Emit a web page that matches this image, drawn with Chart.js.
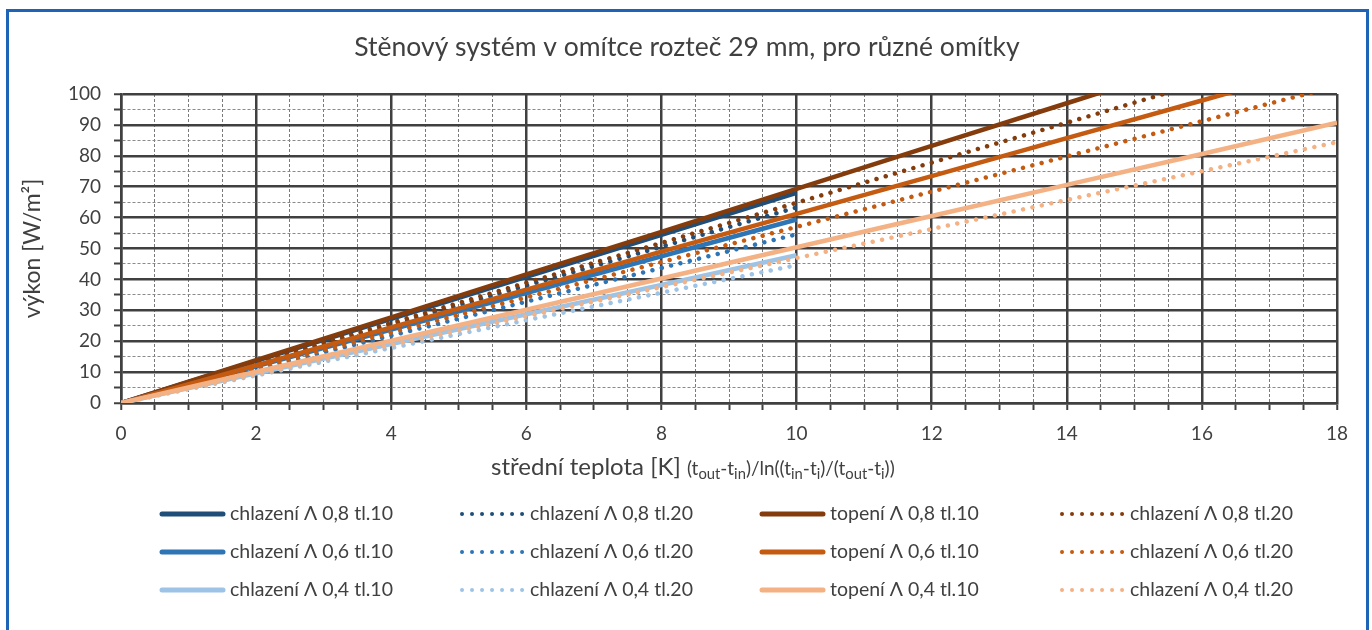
<!DOCTYPE html>
<html lang="cs">
<head>
<meta charset="utf-8">
<title>Stěnový systém v omítce</title>
<script src="https://cdn.jsdelivr.net/npm/chart.js@4/dist/chart.umd.min.js"></script>
<style>
  html, body { margin: 0; padding: 0; background: #fff; overflow: hidden; }
  #wrap { position: relative; width: 1372px; height: 630px; }
  #frame { position: absolute; left: 6px; top: 9px; width: 1357px; height: 640px; border: 3px solid #1e64b6; pointer-events: none; }
  canvas { display: block; }
</style>
</head>
<body>
<div id="wrap">
  <canvas id="chart" width="1372" height="630"></canvas>
  <div id="frame"></div>
</div>
<script>
// střední teplota [K]
const teplotaChlazeni = [0, 2, 4, 6, 8, 10];
const teplotaTopeni = [0, 2, 4, 6, 8, 10, 12, 14, 16, 18];

// výkon [W/m2] - chlazení
const chlazeni08tl10 = [0, 13.6, 27.2, 40.8, 54.4, 68.0];
const chlazeni08tl20 = [0, 12.7, 25.3, 38.0, 50.6, 63.3];
const chlazeni06tl10 = [0, 11.9, 23.8, 35.6, 47.5, 59.4];
const chlazeni06tl20 = [0, 10.9, 21.8, 32.8, 43.7, 54.6];
const chlazeni04tl10 = [0, 9.6, 19.1, 28.7, 38.2, 47.8];
const chlazeni04tl20 = [0, 8.9, 17.8, 26.8, 35.7, 44.6];

// výkon [W/m2] - topení
const topeni08tl10 = [0, 13.9, 27.7, 41.6, 55.4, 69.3, 83.2, 97.0, 110.9];
const topeni08tl20 = [0, 13.0, 25.9, 38.9, 51.8, 64.8, 77.8, 90.7, 103.7];
const topeni06tl10 = [0, 12.2, 24.5, 36.7, 49.0, 61.2, 73.4, 85.7, 97.9, 110.2];
const topeni06tl20 = [0, 11.4, 22.8, 34.2, 45.6, 57.0, 68.4, 79.8, 91.2, 102.6];
const topeni04tl10 = [0, 10.1, 20.2, 30.2, 40.3, 50.4, 60.5, 70.6, 80.6, 90.7];
const topeni04tl20 = [0, 9.4, 18.8, 28.1, 37.5, 46.9, 56.3, 65.7, 75.0, 84.4];

const xTickLabels = [0, 2, 4, 6, 8, 10, 12, 14, 16, 18];
const yTickLabels = [0, 10, 20, 30, 40, 50, 60, 70, 80, 90, 100];

const FONT = 'Lato, "Open Sans", sans-serif';
const TEXT = '#404040';

function points(xs, ys) {
  return ys.map((y, i) => ({ x: xs[i], y: y }));
}

function serie(label, xs, ys, color, dotted) {
  return {
    label: label,
    data: points(xs, ys),
    borderColor: color,
    backgroundColor: color,
    borderWidth: 4.5,
    borderDash: dotted ? [0.01, 9.6] : [],
    borderCapStyle: dotted ? 'round' : 'butt',
    pointRadius: 0,
    tension: 0,
    clip: 0
  };
}

const datasets = [
  serie('chlazení Λ 0,8 tl.10', teplotaChlazeni, chlazeni08tl10, '#1f4e79', false),
  serie('chlazení Λ 0,8 tl.20', teplotaChlazeni, chlazeni08tl20, '#1f4e79', true),
  serie('topení Λ 0,8 tl.10', teplotaTopeni, topeni08tl10, '#843c0c', false),
  serie('chlazení Λ 0,8 tl.20', teplotaTopeni, topeni08tl20, '#843c0c', true),
  serie('chlazení Λ 0,6 tl.10', teplotaChlazeni, chlazeni06tl10, '#2e75b6', false),
  serie('chlazení Λ 0,6 tl.20', teplotaChlazeni, chlazeni06tl20, '#2e75b6', true),
  serie('topení Λ 0,6 tl.10', teplotaTopeni, topeni06tl10, '#c55a11', false),
  serie('chlazení Λ 0,6 tl.20', teplotaTopeni, topeni06tl20, '#c55a11', true),
  serie('chlazení Λ 0,4 tl.10', teplotaChlazeni, chlazeni04tl10, '#9dc3e6', false),
  serie('chlazení Λ 0,4 tl.20', teplotaChlazeni, chlazeni04tl20, '#9dc3e6', true),
  serie('topení Λ 0,4 tl.10', teplotaTopeni, topeni04tl10, '#f4b183', false),
  serie('chlazení Λ 0,4 tl.20', teplotaTopeni, topeni04tl20, '#f4b183', true)
];
// later series on top, like the spreadsheet draws them
datasets.forEach((d, i) => { d.order = -i; });

function isMajor(ctx, labels) {
  return ctx.tick && labels.includes(ctx.tick.value);
}

// chart title, x axis title with subscripts and a 4-column legend
const textPlugin = {
  id: 'texty',
  afterDraw(chart) {
    const ctx = chart.ctx;
    ctx.save();
    ctx.fillStyle = TEXT;
    ctx.textBaseline = 'middle';

    ctx.font = '26.5px ' + FONT;
    ctx.textAlign = 'center';
    ctx.fillText('Stěnový systém v omítce rozteč 29 mm, pro různé omítky', 687, 47);

    // x axis title: main text, then the formula with subscripts (sized to 208 px)
    ctx.textAlign = 'left';
    ctx.textBaseline = 'alphabetic';
    ctx.font = '24px ' + FONT;
    const main = 'střední teplota [K] ';
    const mainW = ctx.measureText(main).width;
    const parts = [
      ['(t', 0], ['out', 1], ['-t', 0], ['in', 1], [')/ln((t', 0], ['in', 1], ['-t', 0], ['i', 1],
      [')/(t', 0], ['out', 1], ['-t', 0], ['i', 1], ['))', 0]
    ];
    const partFont = (p, s) => (p[1] ? s * 0.78 : s) + 'px ' + FONT;
    let w10 = 0;
    parts.forEach(p => { ctx.font = partFont(p, 10); w10 += ctx.measureText(p[0]).width; });
    const formulaW = 208;
    const size = 10 * formulaW / w10;
    let x = 693 - (mainW + formulaW) / 2;
    ctx.font = '24px ' + FONT;
    ctx.fillText(main, x, 475);
    x += mainW;
    parts.forEach(p => {
      ctx.font = partFont(p, size);
      ctx.fillText(p[0], x, 475 + (p[1] ? 4 : 0));
      x += ctx.measureText(p[0]).width;
    });

    // legend
    ctx.textBaseline = 'middle';
    ctx.font = '19.5px ' + FONT;
    chart.data.datasets.forEach((ds, i) => {
      const col = i % 4;
      const row = Math.floor(i / 4);
      const x0 = 160 + col * 300;
      const y0 = 514 + row * 38;
      const dotted = ds.borderDash.length > 0;
      ctx.beginPath();
      ctx.strokeStyle = ds.borderColor;
      ctx.lineWidth = dotted ? 4 : 5;
      ctx.lineCap = 'round';
      ctx.setLineDash(dotted ? [0.01, 10] : []);
      ctx.moveTo(x0 + 2, y0);
      ctx.lineTo(x0 + 63, y0);
      ctx.stroke();
      ctx.setLineDash([]);
      ctx.fillStyle = TEXT;
      ctx.fillText(ds.label, x0 + 70, y0);
    });
    ctx.restore();
  }
};

new Chart(document.getElementById('chart'), {
  type: 'line',
  data: { datasets: datasets },
  plugins: [textPlugin],
  options: {
    responsive: false,
    animation: false,
    devicePixelRatio: 1,
    layout: { padding: { left: 0, right: 35, top: 94, bottom: 0 } },
    plugins: { legend: { display: false }, tooltip: { enabled: false } },
    scales: {
      x: {
        type: 'linear',
        min: 0,
        max: 18,
        afterFit: s => { s.height = 227; },
        ticks: {
          stepSize: 0.5,
          maxTicksLimit: 100,
          autoSkip: false,
          maxRotation: 0,
          padding: 12,
          color: TEXT,
          font: { family: FONT, size: 19 },
          callback: v => xTickLabels.includes(v) ? String(v) : ''
        },
        grid: {
          color: c => isMajor(c, xTickLabels) ? '#404040' : '#7a7a7a',
          lineWidth: c => isMajor(c, xTickLabels) ? 2.5 : 1,
          tickColor: '#404040',
          tickWidth: 2,
          tickLength: 7,
          tickBorderDash: []
        },
        border: {
          display: true,
          color: '#404040',
          width: 2.5,
          dash: c => (c.tick && !xTickLabels.includes(c.tick.value)) ? [3, 2] : []
        }
      },
      y: {
        min: 0,
        max: 100,
        afterFit: s => { s.width = 121; },
        ticks: {
          stepSize: 5,
          maxTicksLimit: 100,
          autoSkip: false,
          padding: 13,
          color: TEXT,
          font: { family: FONT, size: 19 },
          callback: v => yTickLabels.includes(v) ? String(v) : ''
        },
        title: {
          display: true,
          text: 'výkon [W/m²]',
          color: TEXT,
          font: { family: FONT, size: 23 },
          padding: { top: 19, bottom: 0 }
        },
        grid: {
          color: c => isMajor(c, yTickLabels) ? '#404040' : '#8a8a8a',
          lineWidth: c => isMajor(c, yTickLabels) ? 2.5 : 1,
          tickColor: '#404040',
          tickWidth: 2,
          tickLength: 7,
          tickBorderDash: []
        },
        border: {
          display: true,
          color: '#404040',
          width: 2.5,
          dash: c => (c.tick && !yTickLabels.includes(c.tick.value)) ? [3, 2] : []
        }
      }
    }
  }
});
</script>
</body>
</html>
